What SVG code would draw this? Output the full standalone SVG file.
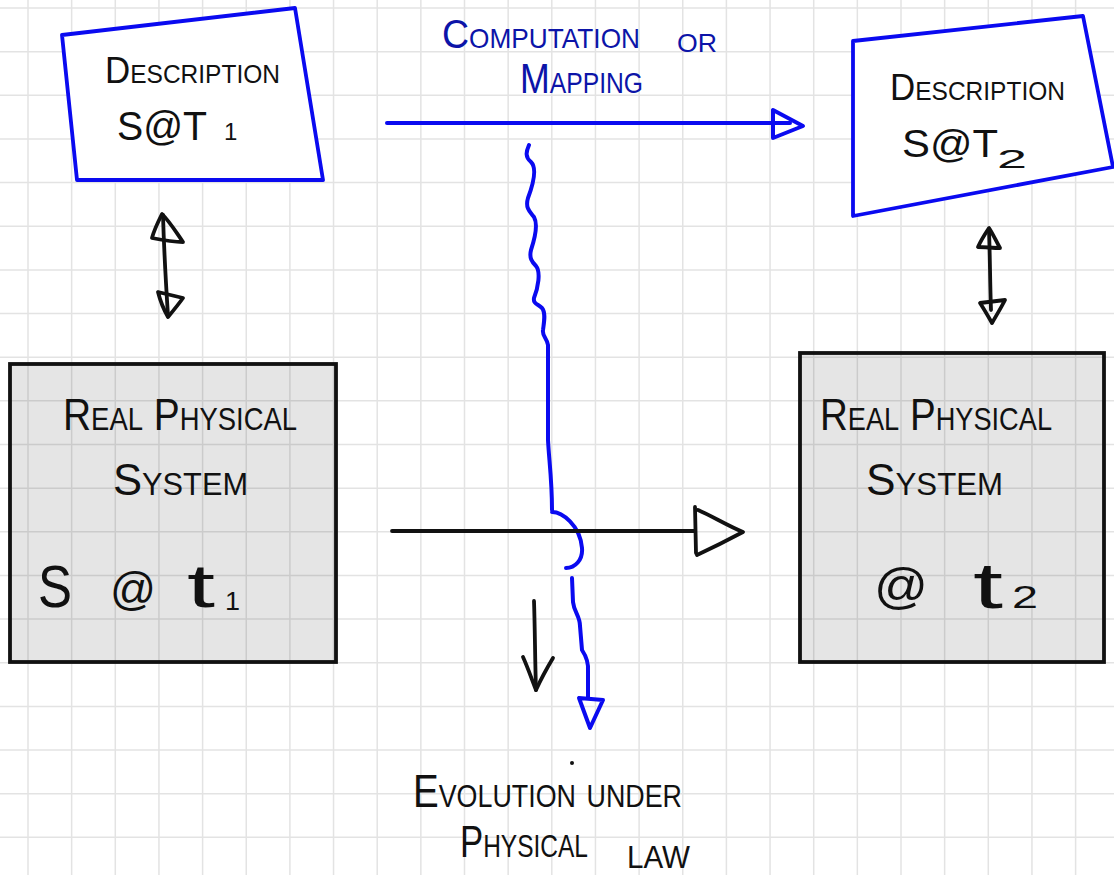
<svg xmlns="http://www.w3.org/2000/svg" width="1114" height="875" viewBox="0 0 1114 875">
<defs>
<style>
.grid line{stroke:#e3e3e3;stroke-width:1.5}
.hand{font-family:"Liberation Sans",Arial,sans-serif;font-variant:small-caps;fill:#111}
.bhand{font-family:"Liberation Sans",Arial,sans-serif;font-variant:small-caps;fill:#0c14a8}
.big{font-family:"Liberation Sans",Arial,sans-serif;fill:#111}
.desc{fill:#fff;stroke:#0a0af0;stroke-width:3.8;stroke-linejoin:round}
.sys{fill:#000;fill-opacity:0.1;stroke:#111;stroke-width:3.8}
.bl{fill:none;stroke:#0a0af0;stroke-width:4;stroke-linecap:round;stroke-linejoin:round}
.bk{fill:none;stroke:#111;stroke-width:3.8;stroke-linecap:round;stroke-linejoin:round}
</style>
</defs>
<rect width="1114" height="875" fill="#fff"/>
<g class="grid">
<line x1="28" y1="0" x2="28" y2="875"/><line x1="71.65" y1="0" x2="71.65" y2="875"/><line x1="115.3" y1="0" x2="115.3" y2="875"/><line x1="158.95" y1="0" x2="158.95" y2="875"/><line x1="202.6" y1="0" x2="202.6" y2="875"/><line x1="246.25" y1="0" x2="246.25" y2="875"/><line x1="289.9" y1="0" x2="289.9" y2="875"/><line x1="333.55" y1="0" x2="333.55" y2="875"/><line x1="377.2" y1="0" x2="377.2" y2="875"/><line x1="420.85" y1="0" x2="420.85" y2="875"/><line x1="464.5" y1="0" x2="464.5" y2="875"/><line x1="508.15" y1="0" x2="508.15" y2="875"/><line x1="551.8" y1="0" x2="551.8" y2="875"/><line x1="595.45" y1="0" x2="595.45" y2="875"/><line x1="639.1" y1="0" x2="639.1" y2="875"/><line x1="682.75" y1="0" x2="682.75" y2="875"/><line x1="726.4" y1="0" x2="726.4" y2="875"/><line x1="770.05" y1="0" x2="770.05" y2="875"/><line x1="813.7" y1="0" x2="813.7" y2="875"/><line x1="857.35" y1="0" x2="857.35" y2="875"/><line x1="901" y1="0" x2="901" y2="875"/><line x1="944.65" y1="0" x2="944.65" y2="875"/><line x1="988.3" y1="0" x2="988.3" y2="875"/><line x1="1031.95" y1="0" x2="1031.95" y2="875"/><line x1="1075.6" y1="0" x2="1075.6" y2="875"/>
<line x1="0" y1="8" x2="1114" y2="8"/><line x1="0" y1="51.65" x2="1114" y2="51.65"/><line x1="0" y1="95.3" x2="1114" y2="95.3"/><line x1="0" y1="138.95" x2="1114" y2="138.95"/><line x1="0" y1="182.6" x2="1114" y2="182.6"/><line x1="0" y1="226.25" x2="1114" y2="226.25"/><line x1="0" y1="269.9" x2="1114" y2="269.9"/><line x1="0" y1="313.55" x2="1114" y2="313.55"/><line x1="0" y1="357.2" x2="1114" y2="357.2"/><line x1="0" y1="400.85" x2="1114" y2="400.85"/><line x1="0" y1="444.5" x2="1114" y2="444.5"/><line x1="0" y1="488.15" x2="1114" y2="488.15"/><line x1="0" y1="531.8" x2="1114" y2="531.8"/><line x1="0" y1="575.45" x2="1114" y2="575.45"/><line x1="0" y1="619.1" x2="1114" y2="619.1"/><line x1="0" y1="662.75" x2="1114" y2="662.75"/><line x1="0" y1="706.4" x2="1114" y2="706.4"/><line x1="0" y1="750.05" x2="1114" y2="750.05"/><line x1="0" y1="793.7" x2="1114" y2="793.7"/><line x1="0" y1="837.35" x2="1114" y2="837.35"/>
</g>

<g id="desc1">
<polygon class="desc" points="62,35 295,8 323,180 77,180"/>
<text class="hand" x="105" y="83" font-size="37" textLength="175" lengthAdjust="spacingAndGlyphs">Description</text>
<text class="big" x="117" y="140" font-size="40" textLength="90" lengthAdjust="spacingAndGlyphs">S@T</text>
<text class="big" x="224" y="140" font-size="24">1</text>
</g>

<g id="desc2">
<polygon class="desc" points="853,41 1083,16 1113,167 853,216"/>
<text class="hand" x="890" y="100" font-size="37" textLength="175" lengthAdjust="spacingAndGlyphs">Description</text>
<text class="big" x="902" y="157" font-size="38" textLength="96" lengthAdjust="spacingAndGlyphs">S@T</text>
<text class="big" x="997" y="168" font-size="26" textLength="30" lengthAdjust="spacingAndGlyphs">2</text>
</g>

<g id="sys1">
<rect class="sys" x="10" y="364" width="326" height="298"/>
<text class="hand" x="63" y="430" font-size="44" textLength="234" lengthAdjust="spacingAndGlyphs">Real Physical</text>
<text class="hand" x="113" y="495" font-size="44" textLength="135" lengthAdjust="spacingAndGlyphs">System</text>
<text class="big" x="38" y="607" font-size="60" textLength="34" lengthAdjust="spacingAndGlyphs">S</text>
<text class="big" x="110" y="605" font-size="46" textLength="46" lengthAdjust="spacingAndGlyphs">@</text>
<text class="big" x="187" y="607" font-size="62" textLength="28" lengthAdjust="spacingAndGlyphs">t</text>
<text class="big" x="225" y="610" font-size="26" textLength="15" lengthAdjust="spacingAndGlyphs">1</text>
</g>

<g id="sys2">
<rect class="sys" x="800" y="353" width="304" height="309"/>
<text class="hand" x="820" y="430" font-size="44" textLength="232" lengthAdjust="spacingAndGlyphs">Real Physical</text>
<text class="hand" x="866" y="495" font-size="44" textLength="137" lengthAdjust="spacingAndGlyphs">System</text>
<text class="big" x="874" y="603" font-size="50" textLength="54" lengthAdjust="spacingAndGlyphs">@</text>
<text class="big" x="973" y="608" font-size="64" textLength="30" lengthAdjust="spacingAndGlyphs">t</text>
<text class="big" x="1012" y="608" font-size="32" textLength="26" lengthAdjust="spacingAndGlyphs">2</text>
</g>

<g id="labels">
<text class="bhand" x="442" y="48" font-size="40" textLength="198" lengthAdjust="spacingAndGlyphs">Computation</text>
<text class="bhand" x="677" y="52" font-size="36" textLength="40" lengthAdjust="spacingAndGlyphs">or</text>
<text class="bhand" x="520" y="93" font-size="42" textLength="123" lengthAdjust="spacingAndGlyphs">Mapping</text>
<text class="hand" x="413" y="807" font-size="46" textLength="269" lengthAdjust="spacingAndGlyphs">Evolution under</text>
<text class="hand" x="460" y="857" font-size="44" textLength="128" lengthAdjust="spacingAndGlyphs">Physical</text>
<text class="hand" x="627" y="868" font-size="44" textLength="63" lengthAdjust="spacingAndGlyphs">law</text>
<circle cx="572" cy="763" r="2" fill="#111"/>
</g>

<g id="connectors">
<!-- computation arrow -->
<path class="bl" d="M387,123 L790,123"/>
<path class="bl" d="M773,110 L773,138 L803,126 Z"/>
<!-- wavy evolution mapping -->
<path class="bl" d="M529,145 C526,152 525,157 531,162 C537,168 534,182 528,198 C525,208 530,212 534,217 C538,224 535,238 531,250 C529,258 532,262 536,266 C541,272 538,288 534,298 C533,304 538,304 542,308 C546,313 544,322 543,330 C542,336 547,338 548,345 L548,440 C549,460 552,480 552,510 M552,512 C562,512 580,525 582,548 C583,560 575,568 566,568"/>
<path class="bl" d="M572,578 L573,602 C574,612 580,616 580,626 L582,650 C586,656 589,662 588,672 L588,697"/>
<path class="bl" d="M579,698 L603,700 L590,728 Z"/>
<!-- black evolution arrow -->
<path class="bk" d="M392,531 L695,531"/>
<path class="bk" d="M695,507 L696,553"/>
<path class="bk" d="M698,510 C712,516 728,526 743,532 C728,540 712,548 697,555"/>
<!-- small down arrow -->
<path class="bk" d="M534,601 C535,630 535,660 536,690"/>
<path class="bk" d="M523,657 C528,668 532,680 536,690 C541,679 547,668 553,658"/>
<!-- left double arrow -->
<path class="bk" d="M163,215 C164,250 166,285 168,316"/>
<path class="bk" d="M162,214 C158,222 154,230 152,238 C162,240 172,242 183,242 C176,232 170,222 162,214 Z"/>
<path class="bk" d="M158,292 C166,294 175,296 183,298 C178,305 173,311 168,317 C164,310 160,300 158,292 Z"/>
<!-- right double arrow -->
<path class="bk" d="M989,230 C990,256 990,282 991,310"/>
<path class="bk" d="M989,228 C985,234 981,240 978,247 C985,247 993,248 1000,248 C996,241 993,234 989,228 Z"/>
<path class="bk" d="M980,303 C988,302 997,301 1005,300 C1001,308 996,316 992,323 C988,316 984,309 980,303 Z"/>
</g>
</svg>
